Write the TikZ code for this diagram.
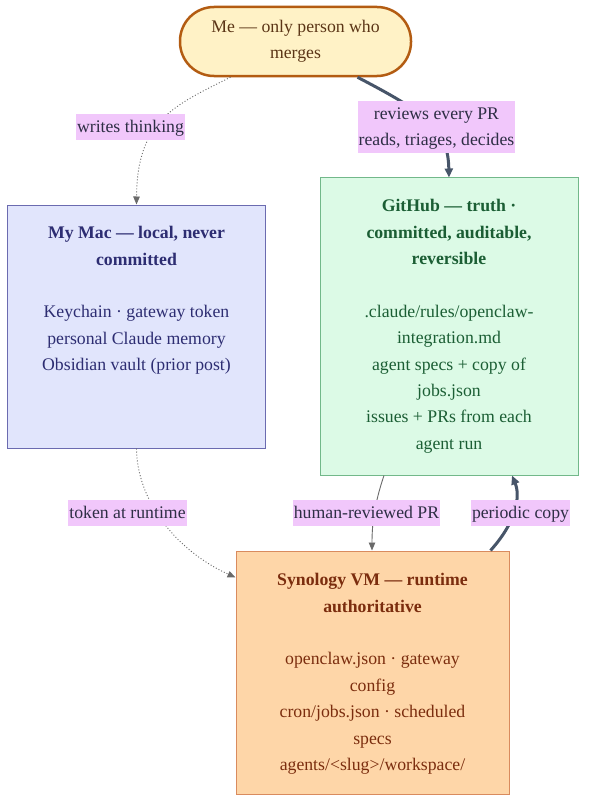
\documentclass[tikz,border=0pt]{standalone}
\usepackage{fontspec}
\setmainfont{Liberation Serif}
\usetikzlibrary{arrows.meta}
\definecolor{mefill}{HTML}{FFF2C6}
\definecolor{meborder}{HTML}{B35C12}
\definecolor{metext}{HTML}{5B3516}
\definecolor{macfill}{HTML}{E1E5FC}
\definecolor{macborder}{HTML}{6B6BB0}
\definecolor{mactext}{HTML}{2D2D72}
\definecolor{ghfill}{HTML}{DCFAE6}
\definecolor{ghborder}{HTML}{72B88A}
\definecolor{ghtext}{HTML}{1B5E34}
\definecolor{synfill}{HTML}{FED6A8}
\definecolor{synborder}{HTML}{D98B5E}
\definecolor{syntext}{HTML}{7B2D0E}
\definecolor{lblfill}{HTML}{F1C7FB}
\definecolor{lbltext}{HTML}{2E2E45}
\definecolor{thickedge}{HTML}{475569}
\definecolor{thinedge}{HTML}{6A6A6A}
\newcommand{\dfont}{\fontsize{17.8}{26.5}\selectfont}
\tikzset{
  box/.style={draw, line width=1bp, inner sep=0pt},
  boxtext/.style={anchor=north, inner sep=0pt, align=center, font=\dfont},
  mebox/.style={draw=meborder, line width=2.5bp, fill=mefill, rounded corners=34bp,
    minimum width=231bp, minimum height=69bp, align=center, text=metext, font=\dfont, inner sep=0pt},
  lbl/.style={fill=lblfill, text=lbltext, inner xsep=1bp, inner ysep=0pt, align=center, font=\dfont},
  dotedge/.style={draw=thinedge, line width=0.9bp, dash pattern=on 1bp off 2bp,
    -{Triangle[length=8bp,width=6.5bp]}},
  thinline/.style={draw=thinedge, line width=0.9bp, -{Triangle[length=8bp,width=6.5bp]}},
  thickline/.style={draw=thickedge, line width=3bp, -{Triangle[length=9bp,width=8bp]}},
}
\begin{document}
\begin{tikzpicture}[x=1bp,y=-1bp]
\useasboundingbox[fill=white] (0,0) rectangle (595,812);
% boxes
\node[mebox] (me) at (295.5,41.5) {Me — only person who\\merges};
\node[box, draw=macborder, fill=macfill, minimum width=257bp, minimum height=243bp] (mac) at (136.5,326.5) {};
\node[box, draw=ghborder, fill=ghfill, minimum width=258bp, minimum height=297bp] (gh) at (449,326.5) {};
\node[box, draw=synborder, fill=synfill, minimum width=273bp, minimum height=243bp] (syn) at (372.5,672.5) {};
% box texts
\node[boxtext, text=mactext] (mact) at (136.5,220)
  {\strut\textbf{My Mac — local, never}\\\textbf{committed}\\[26.5bp]Keychain · gateway token\\personal Claude memory\\Obsidian vault (prior post)};
\node[boxtext, text=ghtext] (ght) at (449,193)
  {\strut\textbf{GitHub — truth ·}\\\textbf{committed, auditable,}\\\textbf{reversible}\\[26.5bp].claude/rules/openclaw-\\integration.md\\agent specs + copy of\\jobs.json\\issues + PRs from each\\agent run};
\node[boxtext, text=syntext] (synt) at (372.5,567)
  {\strut\textbf{Synology VM — runtime}\\\textbf{authoritative}\\[26.5bp]openclaw.json · gateway\\config\\cron/jobs.json · scheduled\\specs\\agents/<slug>/workspace/};
% edges
\draw[dotedge] ([xshift=-65bp]me.south) .. controls (175,105) and (137,120) .. (mac.north);
\draw[thickline] ([xshift=62bp]me.south) .. controls (430,115) and (448,130) .. (gh.north);
\draw[dotedge] (mac.south) .. controls (137,500) and (175,550) .. ([yshift=-27bp]syn.north west);
\draw[thinline] ([xshift=-65bp]gh.south) .. controls (374,505) and (372,525) .. ([xshift=-0.5bp]syn.north);
\draw[thickline] ([xshift=118bp]syn.north) .. controls (518,520) and (520,495) .. ([xshift=63bp]gh.south);
% labels
\node[lbl] (wt) at (130.5,127) {\strut writes thinking};
\node[lbl] (rv) at (436.5,127) {\strut reviews every PR\\\strut reads, triages, decides};
\node[lbl] (tr) at (127.5,513) {\strut token at runtime};
\node[lbl] (hr) at (366.5,513) {\strut human-reviewed PR};
\node[lbl] (pc) at (520.5,513) {\strut periodic copy};
\end{tikzpicture}
\end{document}
